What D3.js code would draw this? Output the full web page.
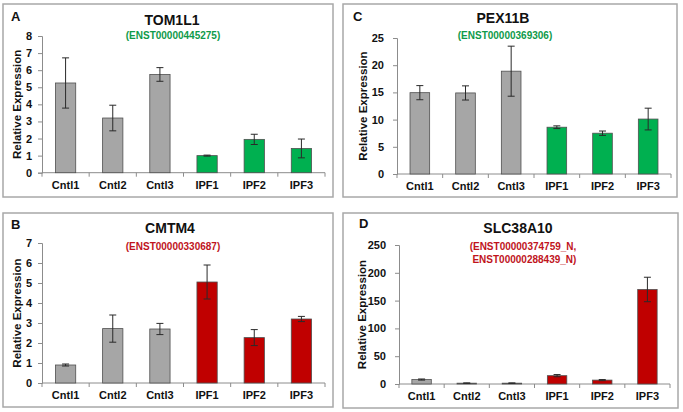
<!DOCTYPE html>
<html><head><meta charset="utf-8">
<script src="https://cdn.jsdelivr.net/npm/d3@7"></script>
<style>
body{margin:0;background:#fff;}
svg{display:block;font-family:Arial,"Liberation Sans",sans-serif;}
</style></head>
<body><svg id="c" width="683" height="412"></svg>
<script>
const categories = ["Cntl1","Cntl2","Cntl3","IPF1","IPF2","IPF3"];
const groups = ["ctrl","ctrl","ctrl","ipf","ipf","ipf"];

const panelLetters = ["A","C","B","D"];
const geneNames = ["TOM1L1","PEX11B","CMTM4","SLC38A10"];
const transcriptLines = [["(ENST00000445275)"],["(ENST00000369306)"],["(ENST00000330687)"],["(ENST00000374759_N,"," ENST00000288439_N)"]];
const trendColors = ["green","green","red","red"];

const tom1l1Values = [5.25,3.2,5.75,1.0,1.95,1.42];
const tom1l1Errors = [1.47,0.75,0.4,0.03,0.3,0.55];
const pex11bValues = [14.95,14.9,18.9,8.6,7.5,10.1];
const pex11bErrors = [1.3,1.3,4.6,0.25,0.4,2.0];
const cmtm4Values = [0.9,2.72,2.7,5.05,2.27,3.2];
const cmtm4Errors = [0.05,0.68,0.28,0.85,0.4,0.13];
const slc38a10Values = [8,1.5,1.5,15,7,170];
const slc38a10Errors = [1,0.5,0.5,2,1,22];

const yMax = [8,25,7,250];
const yTicks = [[0,1,2,3,4,5,6,7,8],[0,5,10,15,20,25],[0,1,2,3,4,5,6,7],[0,50,100,150,200,250]];

const allValues = [tom1l1Values,pex11bValues,cmtm4Values,slc38a10Values];
const allErrors = [tom1l1Errors,pex11bErrors,cmtm4Errors,slc38a10Errors];

// layout (positions only)
const layout = [
  {box:[3,4,333,197], x0:42, x1:325, y0:172.7, y1:36, ylab:17, letter:[11,21], title:[172,25], sub:[173,39], pad:6},
  {box:[343,4,677,197], x0:397, x1:671, y0:174, y1:38, ylab:363, letter:[353,21], title:[503,23], sub:[505,39], pad:9},
  {box:[3,213,333,407], x0:42, x1:325, y0:383, y1:243, ylab:17, letter:[11,229], title:[170,233], sub:[173,250], pad:6},
  {box:[343,213,678,408], x0:399, x1:670, y0:384, y1:245, ylab:362, letter:[359,228], title:[518,233], sub:[523,250], pad:9}
];
const colors = {ctrl:"#a6a6a6", green:"#00b050", red:"#c00000"};
const textColors = {green:"#0f9a4a", red:"#c0141c"};

const svg = d3.select("#c");

layout.forEach((L,i)=>{
  const g = svg.append("g");
  g.append("rect").attr("x",L.box[0]).attr("y",L.box[1])
    .attr("width",L.box[2]-L.box[0]).attr("height",L.box[3]-L.box[1])
    .attr("fill","#fff").attr("stroke","#a8a8a8").attr("stroke-width",1.5);

  const x = d3.scaleBand().domain(categories).range([L.x0,L.x1]).paddingInner(0.57).paddingOuter(0.285);
  const xb = d3.scaleBand().domain(categories).range([L.x0,L.x1]);
  const y = d3.scaleLinear().domain([0,yMax[i]]).range([L.y0,L.y1]);

  // y axis
  const ya = g.append("g").attr("transform",`translate(${L.x0},0)`)
    .call(d3.axisLeft(y).tickValues(yTicks[i]).tickSize(4).tickPadding(L.pad).tickFormat(d3.format("d")));
  ya.select(".domain").attr("stroke","#8c8c8c");
  ya.selectAll(".tick line").attr("stroke","#8c8c8c");
  ya.selectAll("text").attr("font-size",11).attr("font-weight","bold").attr("fill","#111");

  // x axis line + boundary ticks
  g.append("line").attr("x1",L.x0).attr("x2",L.x1).attr("y1",L.y0).attr("y2",L.y0).attr("stroke","#8c8c8c");
  g.selectAll(".bt").data(categories.concat(["_end"])).enter().append("line")
    .attr("x1",(d,j)=> j<6 ? xb(d) : L.x1).attr("x2",(d,j)=> j<6 ? xb(d) : L.x1)
    .attr("y1",L.y0).attr("y2",L.y0+4).attr("stroke","#8c8c8c");
  g.selectAll(".xl").data(categories).enter().append("text")
    .attr("x",d=>xb(d)+xb.bandwidth()/2).attr("y",L.y0+16)
    .attr("text-anchor","middle").attr("font-size",11).attr("font-weight","bold").attr("fill","#111").text(d=>d);

  // bars
  const vals = allValues[i], errs = allErrors[i];
  g.selectAll(".bar").data(categories).enter().append("rect")
    .attr("x",d=>x(d)).attr("width",x.bandwidth())
    .attr("y",(d,j)=>y(vals[j])).attr("height",(d,j)=>L.y0-y(vals[j]))
    .attr("fill",(d,j)=> groups[j]==="ctrl" ? colors.ctrl : colors[trendColors[i]])
    .attr("stroke","#505050").attr("stroke-width",0.8);

  // error bars
  const eg = g.selectAll(".err").data(categories).enter().append("g").attr("stroke","#2a2a2a").attr("stroke-width",1);
  eg.append("line").attr("x1",d=>x(d)+x.bandwidth()/2).attr("x2",d=>x(d)+x.bandwidth()/2)
    .attr("y1",(d,j)=>y(vals[j]+errs[j])).attr("y2",(d,j)=>y(Math.max(0,vals[j]-errs[j])));
  ["+","-"].forEach(s=>{
    eg.append("line").attr("x1",d=>x(d)+x.bandwidth()/2-3.5).attr("x2",d=>x(d)+x.bandwidth()/2+3.5)
      .attr("y1",(d,j)=>y(s==="+"?vals[j]+errs[j]:Math.max(0,vals[j]-errs[j])))
      .attr("y2",(d,j)=>y(s==="+"?vals[j]+errs[j]:Math.max(0,vals[j]-errs[j])));
  });

  // texts
  g.append("text").attr("x",L.letter[0]).attr("y",L.letter[1]).attr("font-size",13).attr("font-weight","bold").attr("fill","#111").text(panelLetters[i]);
  g.append("text").attr("x",L.title[0]).attr("y",L.title[1]).attr("text-anchor","middle").attr("font-size",14).attr("font-weight","bold").attr("fill","#111").text(geneNames[i]);
  transcriptLines[i].forEach((t,k)=>{
    g.append("text").attr("x",L.sub[0]).attr("y",L.sub[1]+k*13).attr("text-anchor","middle")
      .attr("font-size",10).attr("font-weight","bold").attr("fill",textColors[trendColors[i]])
      .attr("xml:space","preserve").style("white-space","pre").text(t);
  });
  g.append("text").attr("transform",`translate(${L.ylab},${(L.y0+L.y1)/2}) rotate(-90)`)
    .attr("text-anchor","middle").attr("dominant-baseline","central").attr("font-size",11.5).attr("font-weight","bold").attr("fill","#111").text("Relative Expression");
});
</script></body></html>
